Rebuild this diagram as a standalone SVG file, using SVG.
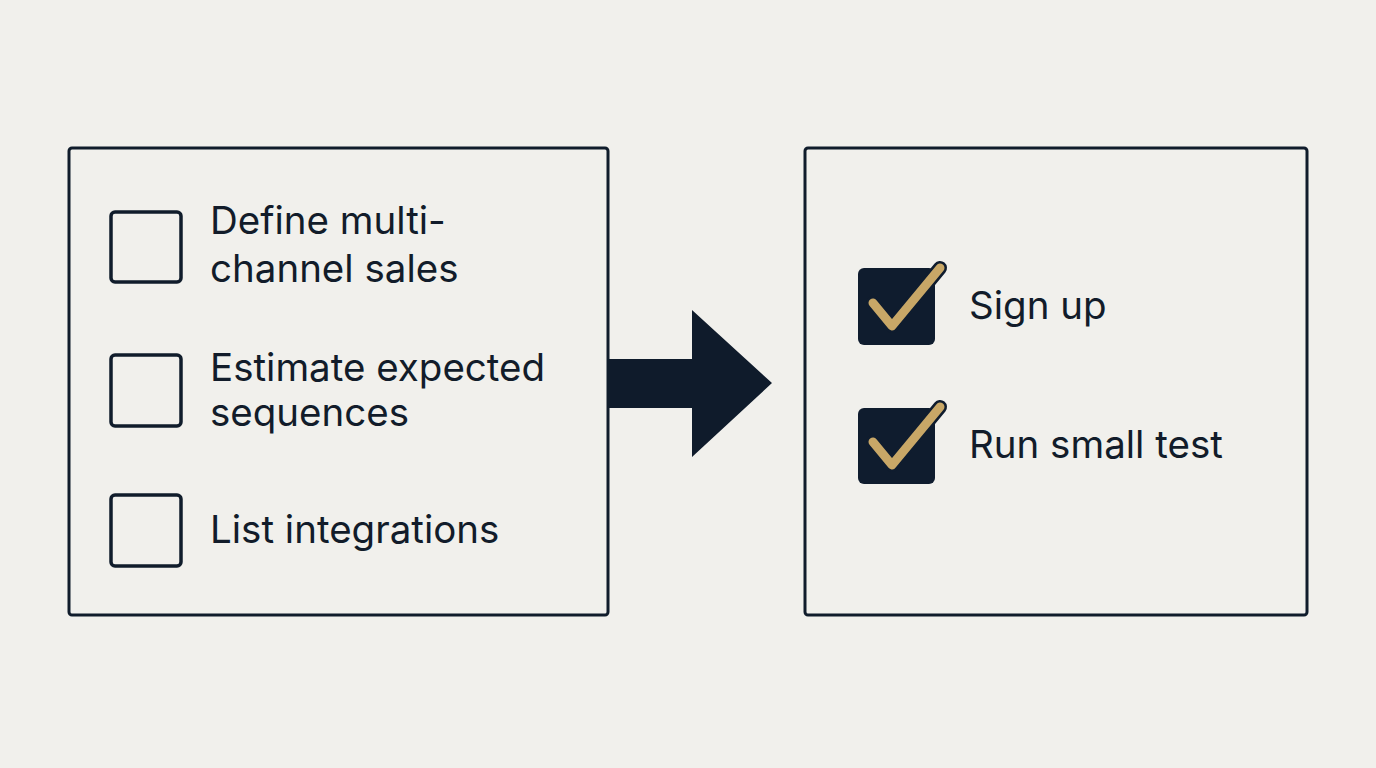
<svg xmlns="http://www.w3.org/2000/svg" width="1376" height="768" viewBox="0 0 1376 768">
<style>
.panel{fill:none;stroke:#101c2b;stroke-width:3}
.box{fill:none;stroke:#101c2b;stroke-width:3.5}
.fbox{fill:#0f1c2e}
.chk{fill:none;stroke-linecap:round;stroke-linejoin:round}
.lbl{font-family:Inter,"Noto Sans",sans-serif;font-size:38.5px;fill:#121c2a}
</style>
<rect width="1376" height="768" fill="#f1f0ec"/>
<g id="left-panel">
<rect class="panel" x="69" y="148" width="539" height="467" rx="3"/>
<g id="item1"><rect class="box" x="111" y="212" width="70" height="70" rx="4"/>
<text class="lbl" x="210" y="234">Define multi-</text>
<text class="lbl" x="210" y="282">channel sales</text></g>
<g id="item2"><rect class="box" x="111" y="355" width="70" height="71" rx="4"/>
<text class="lbl" x="210" y="381">Estimate expected</text>
<text class="lbl" x="210" y="426">sequences</text></g>
<g id="item3"><rect class="box" x="111" y="495" width="70" height="71" rx="4"/>
<text class="lbl" x="210" y="543">List integrations</text></g>
</g>
<g id="connectors">
<polygon points="608,359 692,359 692,310 772,383 692,457 692,408 608,408" fill="#0f1b2b"/>
</g>
<g id="right-panel">
<rect class="panel" x="805" y="148" width="502" height="467" rx="3"/>
<g id="done1"><rect class="fbox" x="858" y="268" width="77" height="77" rx="6"/>
<path class="chk" d="M873,303 L892,326 L940,268" stroke="#0f1c2e" stroke-width="14"/>
<path class="chk" d="M873,303 L892,326 L940,268" stroke="#c8a767" stroke-width="9"/>
<text class="lbl" x="969" y="319">Sign up</text></g>
<g id="done2"><rect class="fbox" x="858" y="408" width="77" height="76" rx="6"/>
<path class="chk" d="M873,442 L892,465 L940,407" stroke="#0f1c2e" stroke-width="14"/>
<path class="chk" d="M873,442 L892,465 L940,407" stroke="#c8a767" stroke-width="9"/>
<text class="lbl" x="969" y="458">Run small test</text></g>
</g>
</svg>
